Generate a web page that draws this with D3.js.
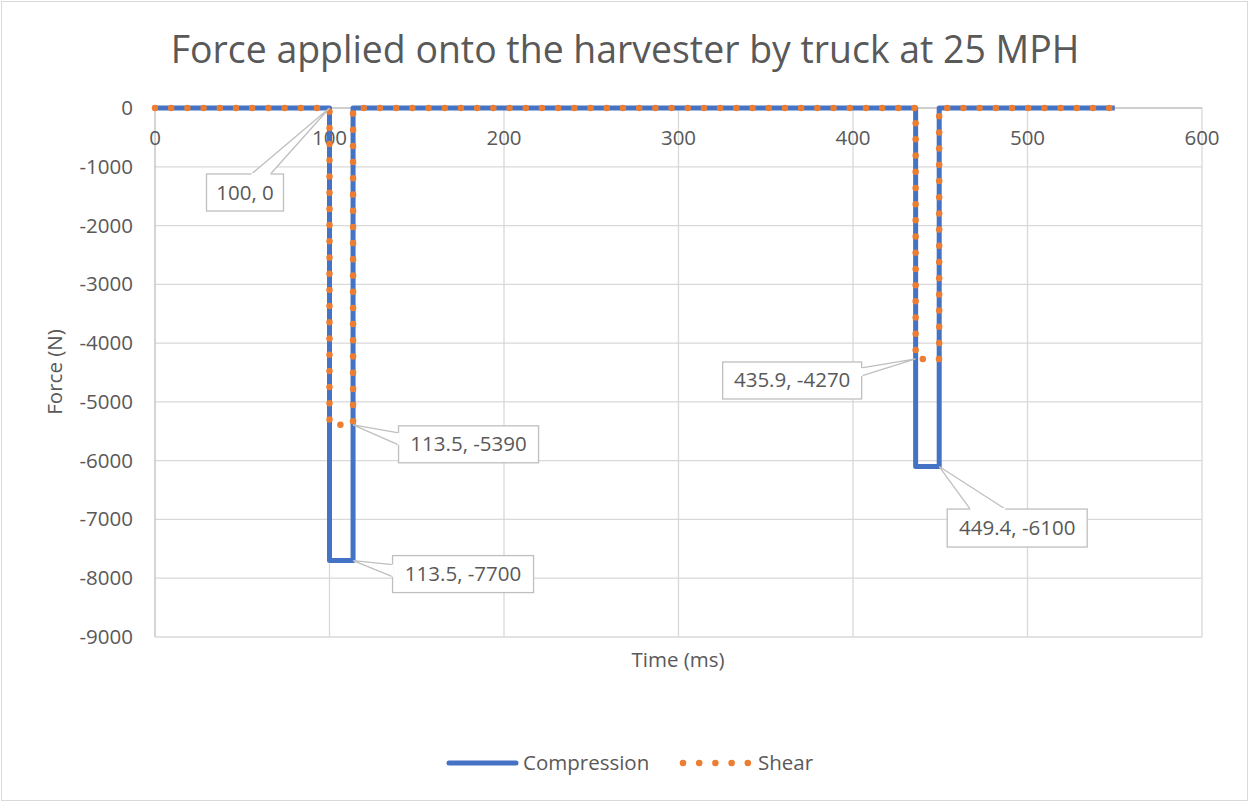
<!DOCTYPE html>
<html><head><meta charset="utf-8">
<script src="https://cdn.jsdelivr.net/npm/d3@7"></script>
<style>body{margin:0;background:#fff;}text{font-family:"Open Sans",sans-serif;fill:#595959;}</style>
</head><body><svg id="c" width="1249" height="803"></svg>
<script>
const title = "Force applied onto the harvester by truck at 25 MPH";
const xTicks = [0,100,200,300,400,500,600];
const yTicks = [0,-1000,-2000,-3000,-4000,-5000,-6000,-7000,-8000,-9000];
const compTime = [0,100,100,113.5,113.5,435.9,435.9,449.4,449.4,550];
const compForce = [0,0,-7700,-7700,0,0,-6100,-6100,0,0];
const shearTime = [0,100,100,113.5,113.5,435.9,435.9,449.4,449.4,550];
const shearForce = [0,0,-5390,-5390,0,0,-4270,-4270,0,0];
const labelPts = [[100,0],[113.5,-5390],[113.5,-7700],[435.9,-4270],[449.4,-6100]];
const seriesNames = ["Compression","Shear"];

const svg = d3.select("#c");
svg.append("rect").attr("x",1.5).attr("y",1.5).attr("width",1246).attr("height",799).attr("fill","#fff").attr("stroke","#d9d9d9");
const x = d3.scaleLinear().domain([0,600]).range([155,1202]);
const y = d3.scaleLinear().domain([0,-9000]).range([108,637]);

// gridlines
svg.append("g").selectAll("line").data(yTicks.slice(1)).join("line")
  .attr("x1",x(0)).attr("x2",x(600)).attr("y1",d=>y(d)).attr("y2",d=>y(d)).attr("stroke","#d9d9d9").attr("stroke-width",1.3);
svg.append("g").selectAll("line").data(xTicks.slice(1)).join("line")
  .attr("y1",y(0)).attr("y2",y(-9000)).attr("x1",d=>x(d)).attr("x2",d=>x(d)).attr("stroke","#d9d9d9").attr("stroke-width",1.3);
// axis lines
svg.append("line").attr("x1",x(0)).attr("x2",x(0)).attr("y1",y(0)).attr("y2",y(-9000)).attr("stroke","#bfbfbf").attr("stroke-width",1.3);
svg.append("line").attr("x1",x(0)).attr("x2",x(600)).attr("y1",y(0)).attr("y2",y(0)).attr("stroke","#bfbfbf").attr("stroke-width",1.3);

// tick labels
svg.append("g").selectAll("text").data(xTicks).join("text")
  .attr("x",d=>x(d)).attr("y",y(0)+37).attr("text-anchor","middle").attr("font-size",20.5).text(d=>d);
svg.append("g").selectAll("text").data(yTicks).join("text")
  .attr("x",133).attr("y",d=>y(d)+7).attr("text-anchor","end").attr("font-size",20.5).text(d=>d);

// titles
svg.append("text").attr("x",625).attr("y",63).attr("text-anchor","middle").attr("font-size",37.4).text(title);
svg.append("text").attr("x",678).attr("y",667).attr("text-anchor","middle").attr("font-size",20.5).text("Time (ms)");
svg.append("text").attr("transform","translate(62,372) rotate(-90)").attr("text-anchor","middle").attr("font-size",20.5).text("Force (N)");

// lines
const line = d3.line().x(d=>x(d[0])).y(d=>y(d[1]));
svg.append("path").datum(compTime.map((t,i)=>[t,compForce[i]])).attr("d",line)
  .attr("fill","none").attr("stroke","#4472C4").attr("stroke-width",5).attr("stroke-linejoin","round");
svg.append("path").datum(shearTime.map((t,i)=>[t,shearForce[i]])).attr("d",line)
  .attr("fill","none").attr("stroke","#ED7D31").attr("stroke-width",6.5).attr("stroke-linecap","round").attr("stroke-dasharray","0 16.2");

// callouts: box offsets relative to point [dx,dy,w,h], wedge base points relative to box
const callouts = [
  {box:[-123,66,77,37], w:[[45,0],[64,0]]},
  {box:[45.5,1,140,37], w:[[0,7],[0,19]]},
  {box:[39.5,-5,141,37], w:[[0,9],[0,21]]},
  {box:[-193,3,139,37], w:[[139,6],[139,14]]},
  {box:[8,42.5,140,38], w:[[23,0],[58,0]]}
];
labelPts.forEach((p,i)=>{
  const px = x(p[0]), py = y(p[1]); const c = callouts[i];
  const bx = px + c.box[0], by = py + c.box[1];
  const g = svg.append("g");
  g.append("rect").attr("x",bx).attr("y",by).attr("width",c.box[2]).attr("height",c.box[3]).attr("fill","#fff").attr("stroke","#bfbfbf").attr("stroke-width",1.3);
  g.append("path").attr("d",`M${bx+c.w[0][0]},${by+c.w[0][1]}L${px},${py}L${bx+c.w[1][0]},${by+c.w[1][1]}`)
    .attr("fill","#fff").attr("stroke","#bfbfbf").attr("stroke-width",1.3);
  g.append("line").attr("x1",bx+c.w[0][0]).attr("y1",by+c.w[0][1]).attr("x2",bx+c.w[1][0]).attr("y2",by+c.w[1][1]).attr("stroke","#fff").attr("stroke-width",2);
  g.append("text").attr("x",bx+c.box[2]/2).attr("y",by+c.box[3]/2+7).attr("text-anchor","middle").attr("font-size",20.5).text(`${p[0]}, ${p[1]}`);
});

// legend
const lg = svg.append("g");
lg.append("line").attr("x1",449).attr("x2",516).attr("y1",763).attr("y2",763).attr("stroke","#4472C4").attr("stroke-width",5).attr("stroke-linecap","round");
lg.append("text").attr("x",523).attr("y",770).attr("font-size",20.5).text(seriesNames[0]);
lg.append("line").attr("x1",683).attr("x2",752).attr("y1",763).attr("y2",763).attr("stroke","#ED7D31").attr("stroke-width",6.5).attr("stroke-linecap","round").attr("stroke-dasharray","0 16.2");
lg.append("text").attr("x",758).attr("y",770).attr("font-size",20.5).text(seriesNames[1]);
</script></body></html>
